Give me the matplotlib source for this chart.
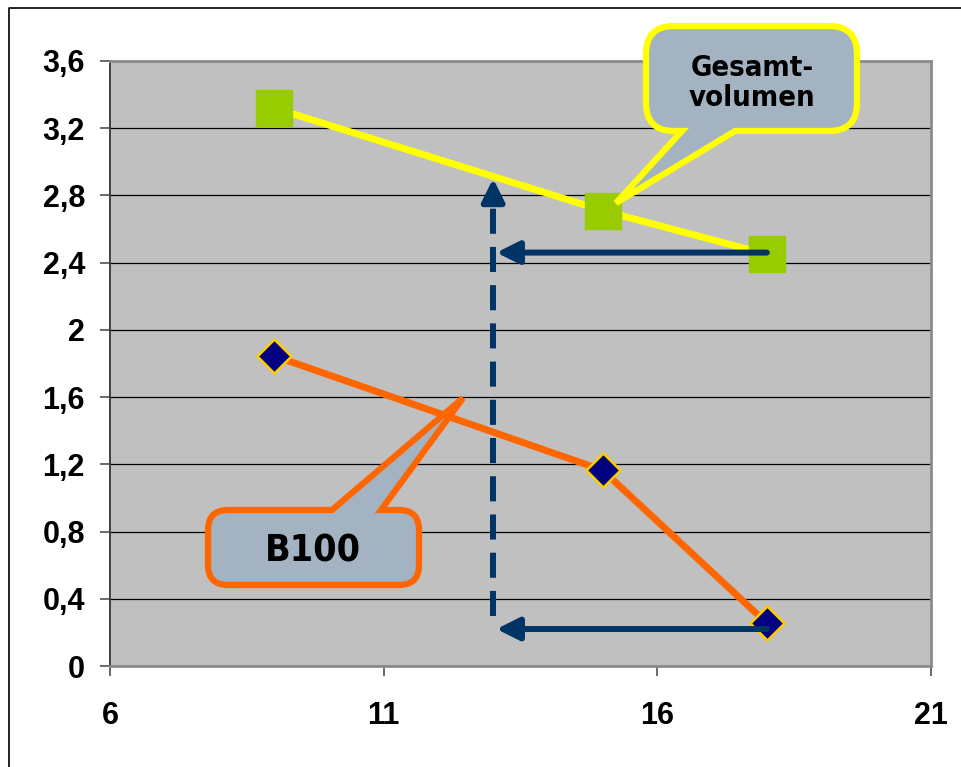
import numpy as np
import matplotlib
matplotlib.use("Agg")
import matplotlib.pyplot as plt
from matplotlib.path import Path
from matplotlib.patches import PathPatch

# data
gesamt_x = [9, 15, 18]
gesamt_y = [3.32, 2.71, 2.45]
b100_x = [9, 15, 18]
b100_y = [1.845, 1.165, 0.255]

# guide lines
guide_x = 13.0
guide_y0, guide_y1 = 0.30, 2.90
arrow_from_x = 18
arrow_to_x = 13.06
arrow_levels = [2.46, 0.22]

xticks = [6, 11, 16, 21]
yticks = [0, 0.4, 0.8, 1.2, 1.6, 2.0, 2.4, 2.8, 3.2, 3.6]
ytick_labels = ["0", "0,4", "0,8", "1,2", "1,6", "2", "2,4", "2,8", "3,2", "3,6"]

W, H = 961, 767
fig = plt.figure(figsize=(W / 100, H / 100), dpi=100)
ax = fig.add_axes([110 / W, 1 - 666 / H, 821 / W, 605 / H])
ax.set_facecolor("#C0C0C0")
ax.set_xlim(6, 21)
ax.set_ylim(0, 3.6)
ax.set_xticks(xticks)
ax.set_yticks(yticks)
ax.set_yticklabels(ytick_labels)
ax.tick_params(axis="both", length=7, width=1.2, color="#505050", labelsize=22)
ax.tick_params(axis="y", pad=11)
ax.tick_params(axis="x", pad=18)
for lab in ax.get_xticklabels() + ax.get_yticklabels():
    lab.set_fontweight("bold")
    lab.set_fontfamily("Liberation Sans")
ax.yaxis.grid(True, color="black", lw=0.9)
ax.set_axisbelow(True)
for side in ["top", "right", "bottom"]:
    ax.spines[side].set_color("#8C8C8C")
    ax.spines[side].set_linewidth(2)
ax.spines["left"].set_color("#404040")
ax.spines["left"].set_linewidth(1.4)

ax.plot(gesamt_x, gesamt_y, color="#FFFF00", lw=5, zorder=3)
ax.plot(gesamt_x, gesamt_y, ls="none", marker="s", ms=25.5, mfc="#99CC00",
        mec="#99CC00", zorder=4)
ax.plot(b100_x, b100_y, color="#FF6600", lw=5, zorder=3)
ax.plot(b100_x, b100_y, ls="none", marker="D", ms=17.5, mfc="#000080",
        mec="#FFCC00", mew=1.8, zorder=4)

navy = "#003366"
ax.plot([guide_x, guide_x], [guide_y0, guide_y1 - 0.1], color=navy, lw=4.3,
        dashes=(4.2, 2.2), zorder=5)
ax.annotate("", xy=(guide_x, guide_y1), xytext=(guide_x, guide_y1 - 0.12),
            arrowprops=dict(arrowstyle="-|>,head_length=0.68,head_width=0.34",
                            color=navy, lw=4.3, mutation_scale=20,
                            shrinkA=0, shrinkB=0), zorder=5)
for yl in arrow_levels:
    ax.annotate("", xy=(arrow_to_x, yl), xytext=(arrow_from_x, yl),
                arrowprops=dict(arrowstyle="-|>,head_length=0.68,head_width=0.34",
                                color=navy, lw=4.3, mutation_scale=20,
                                shrinkA=0, shrinkB=0), zorder=5)

# overlay in pixel coordinates for the frame and callouts
ov = fig.add_axes([0, 0, 1, 1], zorder=10)
ov.set_xlim(0, W)
ov.set_ylim(H, 0)
ov.axis("off")
ov.patch.set_alpha(0)
ov.plot([9, 9, W], [H, 8, 8], color="black", lw=1.2)


def callout(x0, y0, x1, y1, r, side, b0, b1, tip):
    v = [(x0 + r, y0)]
    c = [Path.MOVETO]
    if side == "top":
        v += [(b0, y0), tip, (b1, y0)]
        c += [Path.LINETO] * 3
    v += [(x1 - r, y0), (x1, y0), (x1, y0 + r), (x1, y1 - r), (x1, y1), (x1 - r, y1)]
    c += [Path.LINETO, Path.CURVE3, Path.CURVE3, Path.LINETO, Path.CURVE3, Path.CURVE3]
    if side == "bottom":
        v += [(b1, y1), tip, (b0, y1)]
        c += [Path.LINETO] * 3
    v += [(x0 + r, y1), (x0, y1), (x0, y1 - r), (x0, y0 + r), (x0, y0), (x0 + r, y0), (x0 + r, y0)]
    c += [Path.LINETO, Path.CURVE3, Path.CURVE3, Path.LINETO, Path.CURVE3, Path.CURVE3, Path.CLOSEPOLY]
    return Path(v, c)


fill = "#A3B3C2"
p1 = callout(646, 26, 857, 131, 28, "bottom", 682, 735, (616, 203))
ov.add_patch(PathPatch(p1, fc=fill, ec="#FFFF00", lw=4.5, joinstyle="miter"))
ov.text(752, 83, "Gesamt-\nvolumen", ha="center", va="center", fontsize=21,
        fontweight="bold", family="DejaVu Sans", fontstretch="condensed",
        linespacing=1.05)

p2 = callout(208, 510, 419, 585, 20, "top", 332, 381, (463, 398))
ov.add_patch(PathPatch(p2, fc=fill, ec="#FF6600", lw=4.5, joinstyle="miter"))
ov.text(313, 551, "B100", ha="center", va="center", fontsize=27,
        fontweight="bold", family="DejaVu Sans", fontstretch="condensed")

fig.savefig("out.png", dpi=100)
